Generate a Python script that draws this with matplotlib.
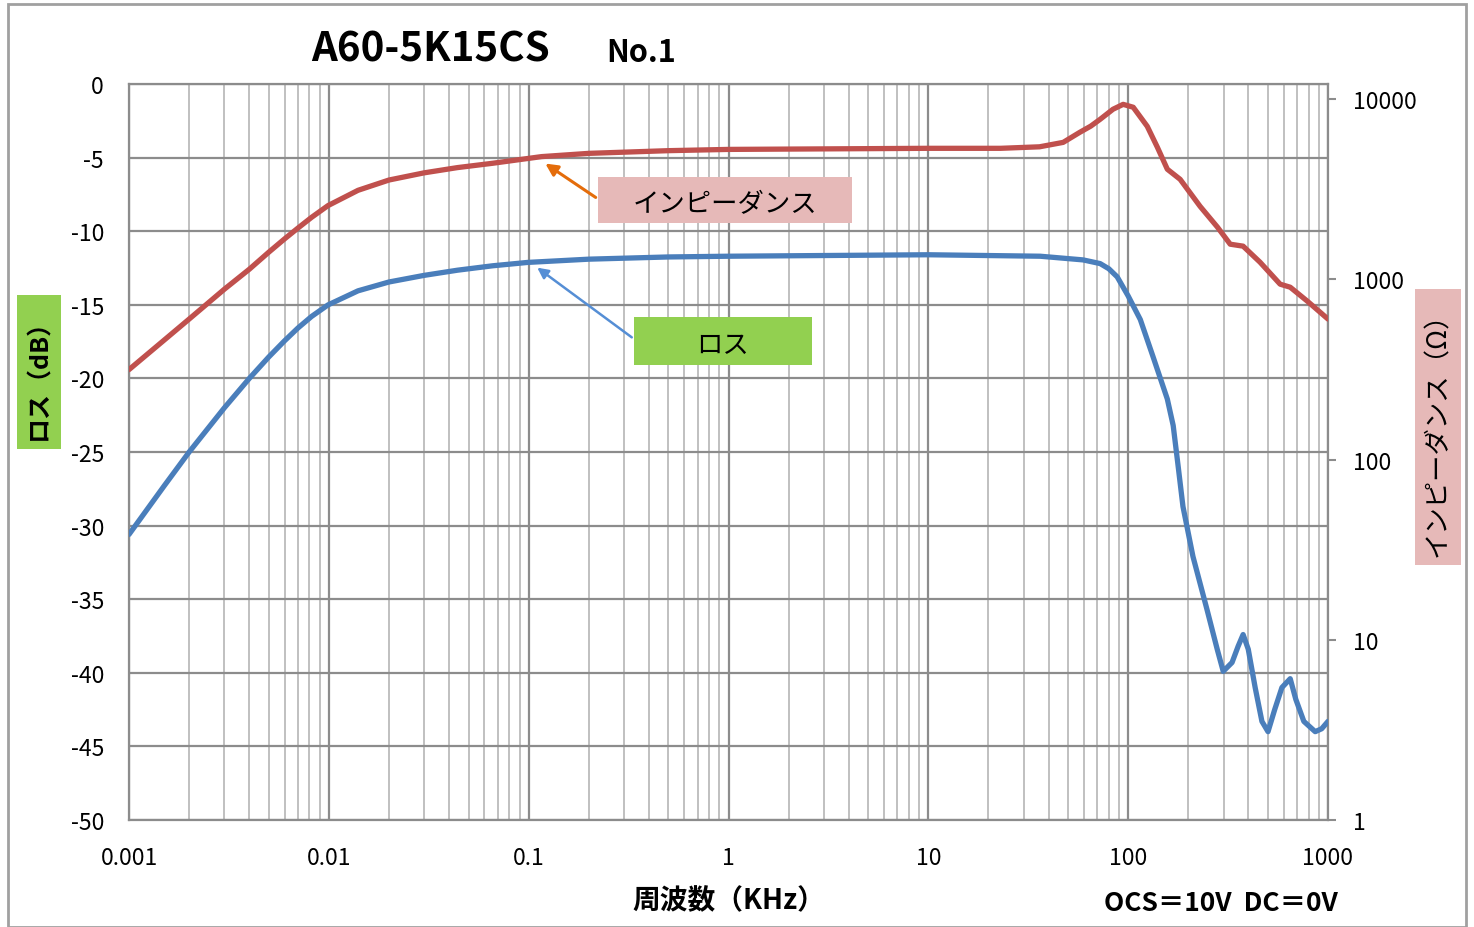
import numpy as np
import matplotlib.pyplot as plt
from matplotlib.patches import Rectangle

plt.rcParams['font.family'] = ['Noto Sans CJK JP', 'DejaVu Sans']
plt.rcParams['axes.unicode_minus'] = False

# impedance (ohm) vs frequency (kHz)
imp_f = [0.001, 0.0015, 0.002, 0.003, 0.004, 0.005, 0.006, 0.007, 0.0082, 0.0099, 0.014, 0.02,
         0.03, 0.044, 0.066, 0.116, 0.2, 0.5, 1, 10, 23, 36, 47.3, 57.3, 65, 72.4, 84, 94.4,
         106, 124.6, 140, 157, 182, 229, 280, 324, 376, 457, 576, 647, 787, 1000]
imp_z = [316, 461, 603, 883, 1140, 1416, 1679, 1928, 2213, 2570, 3126, 3565,
         3908, 4178, 4416, 4808, 5012, 5188, 5272, 5346, 5346, 5450, 5768, 6561, 7100, 7745, 8810, 9376,
         9036, 7079, 5420, 4093, 3597, 2547, 1950, 1570, 1531, 1247, 942, 906, 759, 603]

# loss (dB) vs frequency (kHz)
loss_f = [0.001, 0.0015, 0.002, 0.003, 0.004, 0.005, 0.006, 0.007, 0.0082, 0.0099, 0.014, 0.02,
          0.03, 0.044, 0.066, 0.099, 0.2, 0.5, 1, 10, 36.3, 59.5, 72.4, 80, 88.1, 100, 115, 133,
          157, 168, 178, 188, 211, 248, 279, 299, 331, 355, 376, 399, 432, 467, 501, 541, 588, 647,
          690, 757, 863, 930, 1000]
loss_db = [-30.6, -27.3, -25.0, -22.0, -20.0, -18.55, -17.45, -16.58, -15.79, -15.01, -14.05, -13.45,
           -13.0, -12.65, -12.35, -12.12, -11.9, -11.75, -11.7, -11.6, -11.7, -11.95, -12.2, -12.55, -13.1, -14.4, -16.0, -18.5,
           -21.4, -23.2, -26.0, -28.7, -32.1, -35.7, -38.4, -39.9, -39.3, -38.2, -37.4, -38.4, -41.0, -43.3, -44.0, -42.5, -41.0, -40.4,
           -41.8, -43.3, -44.0, -43.8, -43.3]

x_ticks = [0.001, 0.01, 0.1, 1, 10, 100, 1000]
x_labels = ['0.001', '0.01', '0.1', '1', '10', '100', '1000']
z_ticks = [1, 10, 100, 1000, 10000]

fig = plt.figure(figsize=(14.74, 9.28), dpi=100)
ax = fig.add_axes([129 / 1474, 1 - 821 / 928, (1328 - 129) / 1474, (821 - 85) / 928])

ax.set_xscale('log')
ax.set_xlim(0.001, 1000)
ax.set_ylim(-50, 0)
ax.set_yticks(np.arange(-50, 1, 5))
ax.set_xticks(x_ticks)
ax.set_xticklabels(x_labels)
ax.tick_params(axis='both', which='both', length=0, labelsize=16.5)
ax.tick_params(axis='x', pad=19)
ax.tick_params(axis='y', pad=18)
ax.grid(True, which='major', axis='both', color='#8c8c8c', lw=1.6)
ax.grid(True, which='minor', axis='x', color='#c0c0c0', lw=1.4)
for s in ax.spines.values():
    s.set_color('#8c8c8c')
    s.set_linewidth(1.6)
ax.set_axisbelow(True)

ax.plot(loss_f, loss_db, color='#4a7ebb', lw=3.8, solid_capstyle='round', solid_joinstyle='round', zorder=3)

ax2 = ax.twinx()
ax2.set_yscale('log')
ax2.set_ylim(1, 10 ** 4.085)
ax2.set_yticks(z_ticks)
ax2.set_yticklabels([str(t) for t in z_ticks])
ax2.yaxis.set_minor_locator(plt.NullLocator())
ax2.tick_params(axis='y', which='major', length=6, width=1.5, color='#8c8c8c', labelsize=16.5, pad=12)
for s in ax2.spines.values():
    s.set_visible(False)
ax2.plot(imp_f, imp_z, color='#c0504d', lw=3.8, solid_capstyle='round', solid_joinstyle='round', zorder=3)

# title
fig.text(311 / 1474, 1 - 50 / 928, 'A60-5K15CS', fontsize=29, fontweight='bold', va='center', ha='left')
fig.text(606 / 1474, 1 - 53 / 928, 'No.1', fontsize=22, fontweight='bold', va='center', ha='left')

# axis labels
fig.text(729 / 1474, 1 - 901 / 928, '周波数（KHz）', fontsize=20, fontweight='bold', ha='center', va='center')
fig.text(1221 / 1474, 1 - 904 / 928, 'OCS＝10V  DC＝0V', fontsize=19, fontweight='bold', ha='center', va='center')
fig.text(39 / 1474, 1 - 373 / 928, 'ロス（dB）', fontsize=18, fontweight='bold', rotation=90,
         ha='center', va='center',
         bbox=dict(boxstyle='square,pad=0.4', fc='#92d050', ec='none'))
fig.text(1438 / 1474, 1 - 428 / 928, 'インピーダンス（Ω）', fontsize=19, rotation=90,
         ha='center', va='center',
         bbox=dict(boxstyle='square,pad=0.35', fc='#e6b9b8', ec='none'))

# callouts
fig.patches.append(Rectangle((598 / 1474, 1 - 224 / 928), 254 / 1474, 46 / 928,
                             transform=fig.transFigure, fc='#e6b9b8', ec='none', zorder=5))
fig.text(725 / 1474, 1 - 205 / 928, 'インピーダンス', fontsize=19, ha='center', va='center', zorder=6)
fig.patches.append(Rectangle((634 / 1474, 1 - 366 / 928), 178 / 1474, 48 / 928,
                             transform=fig.transFigure, fc='#92d050', ec='none', zorder=5))
fig.text(723 / 1474, 1 - 345 / 928, 'ロス', fontsize=19, ha='center', va='center', zorder=6)

fig_ann = fig.add_axes([0, 0, 1, 1], facecolor='none')
fig_ann.set_xlim(0, 1474)
fig_ann.set_ylim(928, 0)
fig_ann.axis('off')
fig_ann.annotate('', xy=(543, 163), xytext=(598, 200),
                 arrowprops=dict(arrowstyle='-|>', color='#e46c0a', lw=2.2, mutation_scale=18))
fig_ann.annotate('', xy=(535, 267), xytext=(634, 340),
                 arrowprops=dict(arrowstyle='-|>', color='#558ed5', lw=1.8, mutation_scale=16))

# outer frame
fig.patches.append(Rectangle((8 / 1474, 0), 1458 / 1474, 1 - 5 / 928,
                             transform=fig.transFigure, fc='none', ec='#a0a0a0', lw=2))

fig.savefig('out.png', dpi=100)
